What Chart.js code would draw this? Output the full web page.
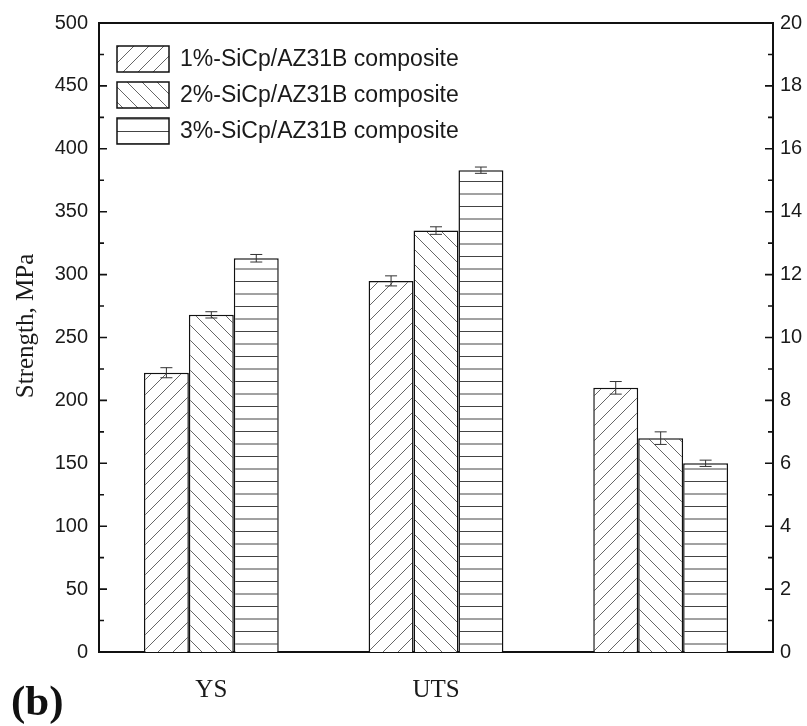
<!DOCTYPE html>
<html>
<head>
<meta charset="utf-8">
<script src="https://cdn.jsdelivr.net/npm/chart.js@4.4.1/dist/chart.umd.min.js"></script>
<style>
  html, body { margin: 0; padding: 0; background: #fff; }
  #wrap { width: 807px; height: 726px; }
</style>
</head>
<body>
<div id="wrap"><canvas id="c" width="807" height="726"></canvas></div>
<script>
// ---------------- data ----------------
const categories = ['YS', 'UTS', ''];
const seriesLabels = ['1%-SiCp/AZ31B composite', '2%-SiCp/AZ31B composite', '3%-SiCp/AZ31B composite'];
// strength (MPa, left axis) for YS and UTS
const strength1 = [222, 295];
const strength2 = [268, 335];
const strength3 = [313, 383];
const strengthErr1 = [4, 4];
const strengthErr2 = [2.5, 3];
const strengthErr3 = [3, 2.5];
// third group (right axis, 0-20)
const elongation = [8.4, 6.8, 6.0];
const elongationErr = [0.2, 0.2, 0.1];
// axis ticks
const leftTicks = [0, 50, 100, 150, 200, 250, 300, 350, 400, 450, 500];
const rightTicks = [0, 2, 4, 6, 8, 10, 12, 14, 16, 18, 20];

// ---------------- patterns ----------------
function makePattern(kind) {
  const s = kind === 'h' ? 25 : 15;
  const c = document.createElement('canvas');
  c.width = s; c.height = s;
  const g = c.getContext('2d');
  g.fillStyle = '#fff';
  g.fillRect(0, 0, s, s);
  g.strokeStyle = kind === 'h' ? '#444' : '#666';
  g.lineWidth = 1;
  g.beginPath();
  if (kind === '/') {
    g.moveTo(-2, s + 2); g.lineTo(s + 2, -2);
    g.moveTo(-2, 2); g.lineTo(2, -2);
    g.moveTo(s - 2, s + 2); g.lineTo(s + 2, s - 2);
  } else if (kind === '\\') {
    g.moveTo(-2, -2); g.lineTo(s + 2, s + 2);
    g.moveTo(-2, s - 2); g.lineTo(2, s + 2);
    g.moveTo(s - 2, -2); g.lineTo(s + 2, 2);
  } else {
    g.moveTo(0, 6.5); g.lineTo(s, 6.5);
    g.moveTo(0, 19); g.lineTo(s, 19);
  }
  g.stroke();
  return document.getElementById('c').getContext('2d').createPattern(c, 'repeat');
}
const patterns = [makePattern('/'), makePattern('\\'), makePattern('h')];

const strengths = [strength1, strength2, strength3];
const strengthErrs = [strengthErr1, strengthErr2, strengthErr3];

const datasets = [];
const errorTable = [];
for (let s = 0; s < 3; s++) {
  datasets.push({
    label: seriesLabels[s],
    data: [strengths[s][0], strengths[s][1], null],
    yAxisID: 'y',
    backgroundColor: patterns[s],
    borderColor: '#111',
    borderWidth: 1.5,
    skipNull: true
  });
  errorTable.push([strengthErrs[s][0], strengthErrs[s][1], null]);
  datasets.push({
    label: seriesLabels[s],
    data: [null, null, elongation[s]],
    yAxisID: 'y2',
    backgroundColor: patterns[s],
    borderColor: '#111',
    borderWidth: 1.5,
    skipNull: true
  });
  errorTable.push([null, null, elongationErr[s]]);
}

// ---------------- plugins ----------------
const frameAndTicks = {
  id: 'frameAndTicks',
  afterDraw(chart) {
    const ctx = chart.ctx;
    const ca = chart.chartArea;
    ctx.save();
    ctx.strokeStyle = '#111';
    ctx.lineWidth = 2;
    ctx.beginPath();
    ctx.moveTo(ca.left, ca.top); ctx.lineTo(ca.right, ca.top);
    ctx.stroke();
    ctx.lineWidth = 1.6;
    const drawTicks = (scale, x0, dir) => {
      const vals = scale.ticks.map(t => t.value);
      ctx.beginPath();
      for (let i = 0; i < vals.length; i++) {
        const p = scale.getPixelForValue(vals[i]);
        ctx.moveTo(x0, p); ctx.lineTo(x0 + dir * 8, p);
        if (i < vals.length - 1) {
          const m = scale.getPixelForValue((vals[i] + vals[i + 1]) / 2);
          ctx.moveTo(x0, m); ctx.lineTo(x0 + dir * 5, m);
        }
      }
      ctx.stroke();
    };
    drawTicks(chart.scales.y, ca.left, 1);
    drawTicks(chart.scales.y2, ca.right, -1);
    ctx.restore();
  }
};

const errorBars = {
  id: 'errorBars',
  afterDatasetsDraw(chart) {
    const ctx = chart.ctx;
    ctx.save();
    ctx.strokeStyle = '#333';
    ctx.lineWidth = 1;
    chart.data.datasets.forEach((ds, i) => {
      const meta = chart.getDatasetMeta(i);
      const scale = chart.scales[ds.yAxisID];
      ds.data.forEach((v, j) => {
        const e = errorTable[i][j];
        if (v === null || e === null) return;
        const el = meta.data[j];
        const x = el.x;
        const yt = scale.getPixelForValue(v + e);
        const yb = scale.getPixelForValue(v - e);
        ctx.beginPath();
        ctx.moveTo(x, yt); ctx.lineTo(x, yb);
        ctx.moveTo(x - 6, yt); ctx.lineTo(x + 6, yt);
        ctx.moveTo(x - 6, yb); ctx.lineTo(x + 6, yb);
        ctx.stroke();
      });
    });
    ctx.restore();
  }
};

const customLegend = {
  id: 'customLegend',
  afterDraw(chart) {
    const ctx = chart.ctx;
    ctx.save();
    const x0 = 117, y0 = 46, bw = 52, bh = 26, step = 36;
    ctx.font = '23px "Liberation Sans", Arial, sans-serif';
    ctx.textBaseline = 'middle';
    for (let s = 0; s < 3; s++) {
      const y = y0 + s * step;
      ctx.fillStyle = patterns[s];
      ctx.fillRect(x0, y, bw, bh);
      ctx.strokeStyle = '#111';
      ctx.lineWidth = 1.5;
      ctx.strokeRect(x0, y, bw, bh);
      ctx.fillStyle = '#1a1a1a';
      ctx.fillText(seriesLabels[s], 180, y + bh / 2 + 1);
    }
    // y axis title
    ctx.save();
    ctx.fillStyle = '#1a1a1a';
    ctx.translate(26, 326);
    ctx.rotate(-Math.PI / 2);
    ctx.textAlign = 'center';
    ctx.font = '25px "Liberation Serif", "Times New Roman", serif';
    ctx.fillText('Strength, MPa', 0, 0);
    ctx.restore();
    // panel label
    ctx.fillStyle = '#111';
    ctx.font = 'bold 43px "Liberation Serif", "Times New Roman", serif';
    ctx.textBaseline = 'alphabetic';
    ctx.textAlign = 'left';
    ctx.fillText('(b)', 11, 715);
    ctx.restore();
  }
};

new Chart(document.getElementById('c'), {
  type: 'bar',
  data: { labels: categories, datasets: datasets },
  options: {
    responsive: false,
    animation: false,
    layout: { padding: { top: 20, left: 0, right: 0, bottom: 0 } },
    datasets: { bar: { categoryPercentage: 0.6, barPercentage: 1.0, skipNull: true } },
    plugins: { legend: { display: false }, tooltip: { enabled: false } },
    scales: {
      x: {
        type: 'category',
        offset: true,
        grid: { display: false, drawTicks: false },
        border: { display: true, color: '#111', width: 2 },
        ticks: {
          color: '#1a1a1a',
          padding: 23,
          maxRotation: 0,
          font: { family: '"Liberation Serif", "Times New Roman", serif', size: 25 }
        },
        afterFit(scale) { scale.height = 74; }
      },
      y: {
        position: 'left',
        min: 0, max: 500,
        afterBuildTicks(scale) { scale.ticks = leftTicks.map(v => ({ value: v })); },
        grid: { display: false, drawTicks: false },
        border: { display: true, color: '#111', width: 2 },
        ticks: {
          color: '#1a1a1a',
          padding: 11,
          font: { family: '"Liberation Sans", Arial, sans-serif', size: 20 }
        },
        afterFit(scale) { scale.width = 99; }
      },
      y2: {
        position: 'right',
        min: 0, max: 20,
        afterBuildTicks(scale) { scale.ticks = rightTicks.map(v => ({ value: v })); },
        grid: { display: false, drawTicks: false },
        border: { display: true, color: '#111', width: 2 },
        ticks: {
          color: '#1a1a1a',
          padding: 7,
          font: { family: '"Liberation Sans", Arial, sans-serif', size: 20 }
        },
        afterFit(scale) { scale.width = 34; }
      }
    }
  },
  plugins: [errorBars, frameAndTicks, customLegend]
});
</script>
</body>
</html>
